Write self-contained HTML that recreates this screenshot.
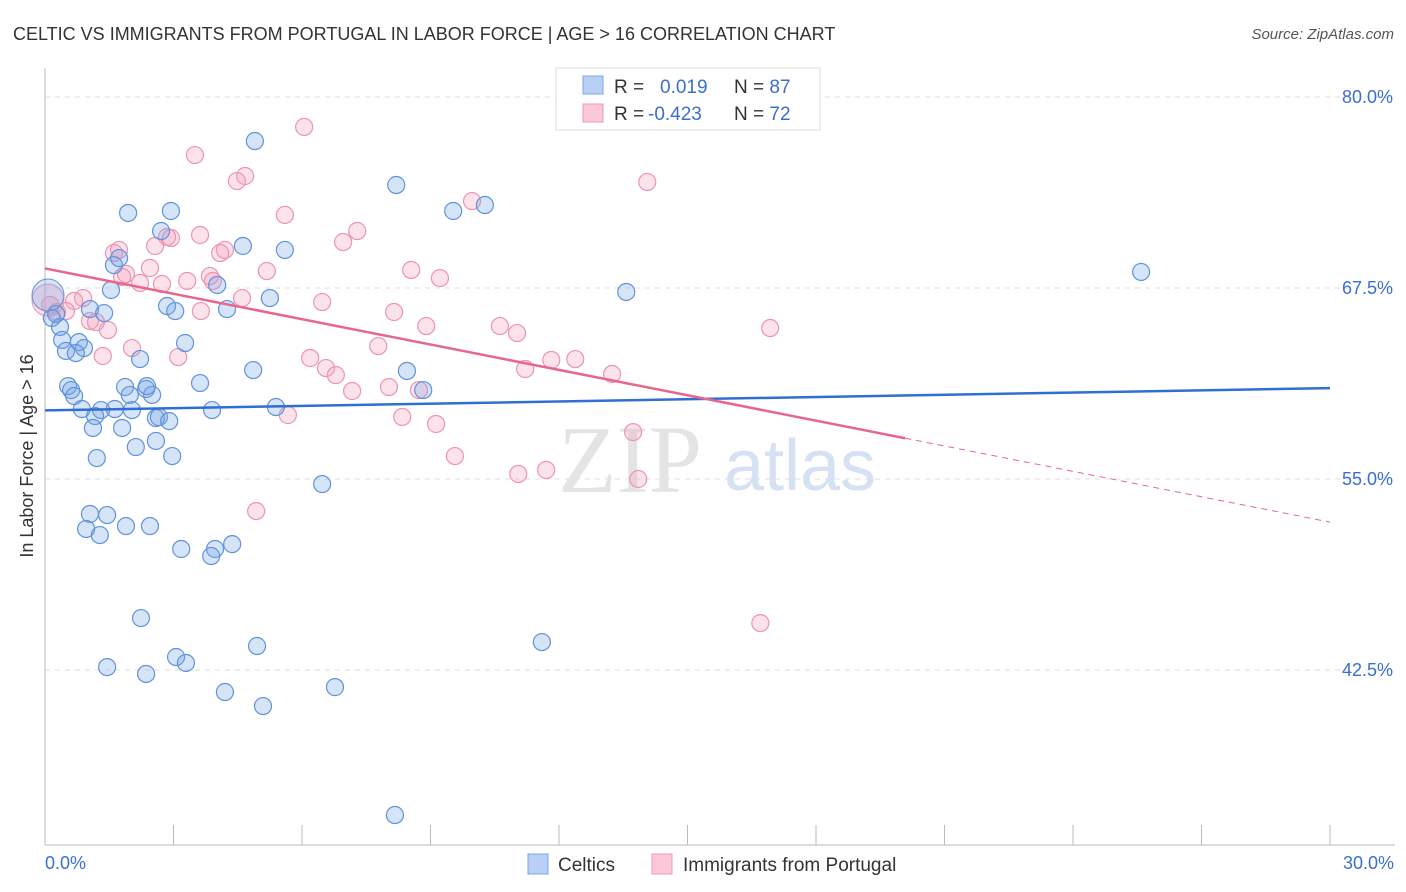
<!DOCTYPE html>
<html><head><meta charset="utf-8"><style>
body{margin:0;background:#fff;font-family:"Liberation Sans",sans-serif;}
svg{display:block}
</style></head><body>
<svg id="chart" width="1406" height="892" xmlns="http://www.w3.org/2000/svg">
<text x="13" y="40" font-size="18" fill="#333">CELTIC VS IMMIGRANTS FROM PORTUGAL IN LABOR FORCE | AGE &gt; 16 CORRELATION CHART</text>
<text x="1394" y="39" font-size="15" fill="#555" font-style="italic" text-anchor="end">Source: ZipAtlas.com</text>
<g id="grid"></g>
<text x="630" y="492" font-size="96" fill="#e4e4e4" font-family="Liberation Serif,serif" text-anchor="middle">ZIP</text>
<text x="800" y="490" font-size="72" fill="#d6e2f3" text-anchor="middle">atlas</text>
<line x1="45" y1="68" x2="45" y2="845" stroke="#bbb"/>
<line x1="45" y1="845" x2="1395" y2="845" stroke="#bbb"/>
<g id="xticks"></g>
<g id="yticks"></g>
<text transform="translate(33,456) rotate(-90)" font-size="18" fill="#333" text-anchor="middle">In Labor Force | Age &gt; 16</text>
<text x="45" y="869" font-size="18" fill="#3a6fd0">0.0%</text>
<text x="1394" y="869" font-size="18" fill="#3a6fd0" text-anchor="end">30.0%</text>
<g id="pinkpts"></g>
<g id="bluepts"></g>
<g id="lines"></g>
<g>
<rect x="556" y="68" width="264" height="62" fill="#fff" stroke="#ddd"/>
<rect x="583" y="76" width="20" height="18" fill="#b8d0f4" stroke="#7aa6e6"/>
<rect x="583" y="104" width="20" height="18" fill="#fbc8d8" stroke="#ec9ab5"/>
<text x="614" y="93" font-size="19" fill="#333">R = <tspan fill="#3a6fd0" x="660">0.019</tspan><tspan fill="#333" x="734">N = </tspan><tspan fill="#3a6fd0">87</tspan></text>
<text x="614" y="120" font-size="19" fill="#333">R = <tspan fill="#3a6fd0" x="648">-0.423</tspan><tspan fill="#333" x="734">N = </tspan><tspan fill="#3a6fd0">72</tspan></text>
</g>
<g>
<rect x="528" y="854" width="20" height="20" fill="#b8d0f4" stroke="#7aa6e6"/>
<text x="558" y="871" font-size="19" fill="#333">Celtics</text>
<rect x="652" y="854" width="20" height="20" fill="#fbc8d8" stroke="#ec9ab5"/>
<text x="683" y="871" font-size="19" fill="#333">Immigrants from Portugal</text>
</g>
</svg>
<script>
const yTicks=[80,67.5,55,42.5];
const xTickVals=[0,3,6,9,12,15,18,21,24,27,30];
const blueX=[4.90,8.20,1.94,2.94,9.53,10.27,2.71,4.62,5.60,1.61,1.73,1.54,4.02,5.25,13.57,25.59,1.05,1.38,2.85,3.04,4.25,0.16,0.35,0.26,0.40,0.79,0.91,0.49,0.72,3.27,2.22,4.86,8.45,0.54,0.61,0.68,1.87,1.98,2.36,2.50,2.38,3.62,8.83,0.86,1.31,1.63,2.03,3.90,5.39,1.17,1.12,1.80,2.59,2.66,2.90,2.59,2.12,2.97,1.21,6.47,1.05,1.45,0.96,1.89,2.45,1.28,3.18,3.97,4.37,3.88,2.24,11.60,4.95,3.06,3.29,1.45,2.36,4.20,6.77,5.09,8.17];
const blueY=[77.12,74.24,72.41,72.54,72.54,72.93,71.23,70.25,69.99,69.0,69.46,67.37,67.7,66.84,67.24,68.55,66.12,65.86,66.32,65.99,66.12,65.54,64.95,65.8,64.1,63.96,63.57,63.38,63.24,63.9,62.85,62.13,62.07,61.08,60.82,60.43,61.02,60.5,60.89,60.5,61.08,61.28,60.82,59.58,59.51,59.58,59.51,59.51,59.71,59.12,58.34,58.34,58.99,59.05,58.79,57.49,57.09,56.5,56.37,54.67,52.71,52.64,51.73,51.92,51.92,51.33,50.42,50.42,50.74,49.96,45.9,44.33,44.07,43.35,42.96,42.69,42.24,41.06,41.38,40.14,33.01];
const pinkX=[6.05,3.50,4.67,4.48,14.06,9.97,5.60,7.29,3.62,2.85,2.94,6.96,2.57,1.61,1.73,4.20,4.09,2.45,5.18,8.55,1.89,1.80,9.22,2.22,2.73,3.32,3.85,3.92,4.60,6.47,0.89,0.68,0.12,0.28,0.49,3.64,8.15,1.05,1.19,1.47,8.90,10.62,11.02,16.93,2.03,3.11,1.35,7.78,12.38,11.82,6.19,6.56,6.79,11.21,13.24,7.17,8.03,8.73,5.67,8.34,9.13,13.73,9.57,11.05,11.70,13.85,4.93,16.70];
const pinkY=[78.04,76.2,74.83,74.5,74.44,73.19,72.28,71.23,70.97,70.84,70.77,70.51,70.25,69.79,69.99,69.99,69.79,68.81,68.61,68.68,68.42,68.22,68.15,67.83,67.76,67.96,68.28,67.96,66.84,66.58,66.84,66.65,66.39,65.93,65.99,65.99,65.93,65.34,65.27,64.75,65.01,65.01,64.55,64.88,63.57,62.98,63.05,63.7,62.85,62.79,62.92,62.26,61.8,62.2,61.87,60.76,61.02,60.82,59.19,59.06,58.6,58.07,56.5,55.33,55.59,55.0,52.9,45.57];
const bigBlue=[0.07,67.04];
const bigPink=[0.07,66.71];
const blueTrend=[59.49,60.95];
const pinkTrend=[68.78,52.18];
const pinkSolidEnd=20.08;

const NS="http://www.w3.org/2000/svg";
const X=v=>45+v/30*1285;
const Y=v=>97+(80-v)/12.5*191;
function mk(tag,attrs,parent){const e=document.createElementNS(NS,tag);for(const k in attrs)e.setAttribute(k,attrs[k]);parent.appendChild(e);return e;}
const grid=document.getElementById('grid'),yt=document.getElementById('yticks'),xt=document.getElementById('xticks');
yTicks.forEach(v=>{
 const l=mk('line',{x1:45,x2:1395,y1:Y(v),y2:Y(v),stroke:'#ddd','stroke-dasharray':'5,5'},grid);
 
 
 const t=mk('text',{x:1393,y:Y(v)+6,'font-size':18,fill:'#3a6fd0','text-anchor':'end'},yt);
 t.textContent=v.toFixed(1)+'%';
 
 
});
xTickVals.forEach(v=>{
 const l=mk('line',{x1:X(v),x2:X(v),y1:825,y2:845,stroke:'#bbb'},xt);
 
 
});
const pg=document.getElementById('pinkpts'),bg=document.getElementById('bluepts');
pinkX.forEach((v,i)=>{
 const c=mk('circle',{cx:X(v),cy:Y(pinkY[i]),r:8.5,fill:'rgba(244,160,188,0.3)',stroke:'#ec94b2','stroke-width':1.2},pg);
 
 
});
blueX.forEach((v,i)=>{
 const c=mk('circle',{cx:X(v),cy:Y(blueY[i]),r:8.5,fill:'rgba(120,165,230,0.3)',stroke:'#5f93dc','stroke-width':1.2},bg);
 
 
});
const bp=mk('circle',{cx:X(bigPink[0]),cy:Y(bigPink[1]),r:16,fill:'rgba(244,160,188,0.35)',stroke:'#ec94b2'},pg);


const bb=mk('circle',{cx:X(bigBlue[0]),cy:Y(bigBlue[1]),r:16,fill:'rgba(120,165,230,0.3)',stroke:'#5f93dc'},bg);


const lg=document.getElementById('lines');
const bl=mk('line',{x1:X(0),y1:Y(blueTrend[0]),x2:X(30),y2:Y(blueTrend[1]),stroke:'#2f6fd3','stroke-width':2.5},lg);


const pAt=x=>pinkTrend[0]+(pinkTrend[1]-pinkTrend[0])*x/30;
const pl=mk('line',{x1:X(0),y1:Y(pAt(0)),x2:X(pinkSolidEnd),y2:Y(pAt(pinkSolidEnd)),stroke:'#e8658f','stroke-width':2.5},lg);


const pd=mk('line',{x1:X(pinkSolidEnd),y1:Y(pAt(pinkSolidEnd)),x2:X(30),y2:Y(pAt(30)),stroke:'#e8658f','stroke-width':1,'stroke-dasharray':'6,5'},lg);


</script>
</body></html>
